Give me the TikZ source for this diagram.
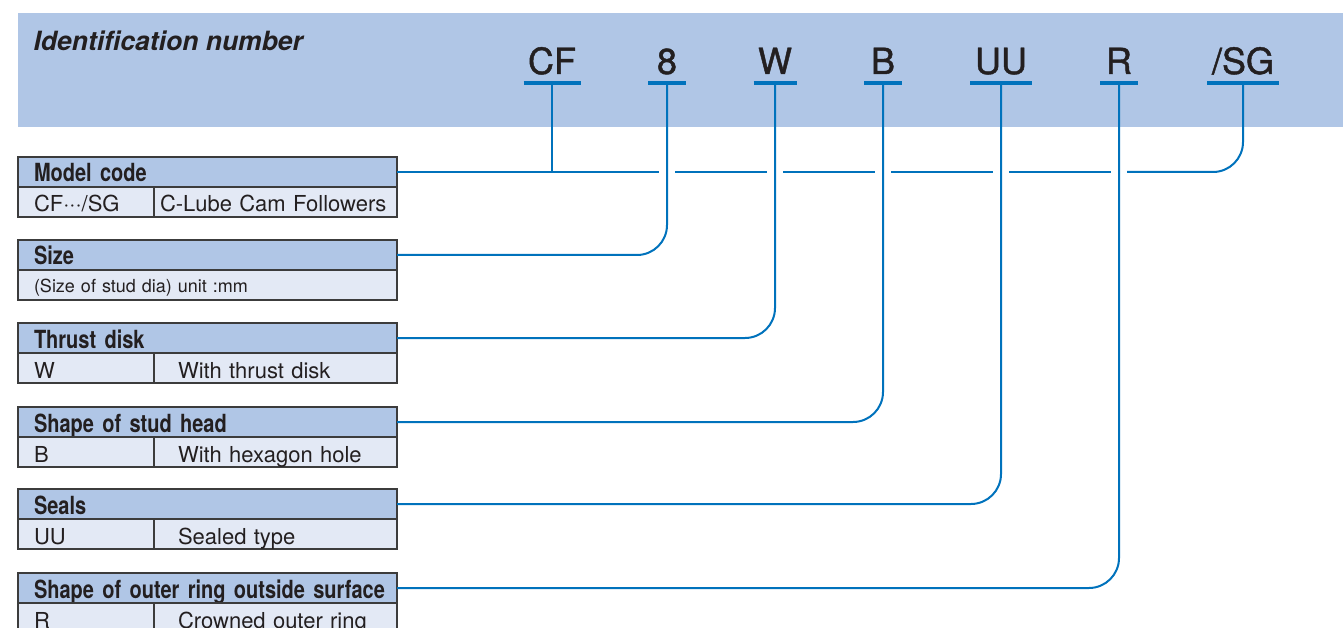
\documentclass[tikz,border=0pt]{standalone}
\usepackage{fontspec}
\setmainfont{TeX Gyre Heros}
\newfontfamily\condfont{TeX Gyre Heros}[FakeStretch=0.8]
\newfontfamily\codefont{TeX Gyre Heros}[FakeBold=1.2]
\usepackage{tikz}
\usetikzlibrary{positioning,calc}

\definecolor{bandblue}{RGB}{176,198,230}
\definecolor{rowblue}{RGB}{227,233,245}
\definecolor{linkblue}{RGB}{0,114,188}
\definecolor{inkgrey}{RGB}{35,31,32}
\definecolor{framegrey}{RGB}{60,60,60}

\tikzset{
  boxtitle/.style={draw=framegrey, line width=1.3pt, fill=bandblue, anchor=north west,
    outer sep=0pt, minimum height=30pt, text width=347pt, inner xsep=16pt, inner ysep=0pt,
    align=left, text height=20pt, text depth=0pt, text=inkgrey,
    font=\condfont\bfseries\fontsize{25}{28}\selectfont},
  keycell/.style={draw=framegrey, line width=1.3pt, fill=rowblue, anchor=north west,
    outer sep=0pt, minimum height=30pt, text width=104pt, inner xsep=16pt, inner ysep=0pt,
    align=left, text height=20pt, text depth=0pt, text=inkgrey,
    font=\fontsize{22}{26}\selectfont},
  desccell/.style={keycell, text width=195pt, inner xsep=24pt},
  widecell/.style={keycell, text width=347pt, text height=14pt,
    font=\fontsize{18}{22}\selectfont},
  code/.style={anchor=base, text=inkgrey, font=\codefont\fontsize{36}{40}\selectfont},
  bar/.style={linkblue, line width=4pt},
  conn/.style={linkblue, line width=2pt},
}

\begin{document}
\begin{tikzpicture}[x=1pt,y=-1pt]
  \useasboundingbox (0,0) rectangle (1343,628);
  % identification band
  \fill[bandblue] (18,13) rectangle (1343,127);
  \node[anchor=base west, text=inkgrey, font=\bfseries\itshape\fontsize{26.5}{30}\selectfont]
    (idnum) at (30,51) {Identification number};
  \foreach \n/\t/\x/\w in {CF/CF/552/57, 8/8/667/38, W/W/775/43, B/B/883/38,
                           UU/UU/1001/62, R/R/1119/38, SG/{/SG}/1243/72} {
    \node[code] (c-\n) at (\x,74) {\t};
    \coordinate (b\n) at (\x,83);
    \draw[bar] (\x-\w/2,83) -- (\x+\w/2,83);
  }

  % boxes
  \node[boxtitle] (model) at (18,157) {Model code};
  \node[keycell] (model-key) at (model.south west) {CF···/SG};
  \node[desccell, text width=231pt, inner xsep=6pt] (model-desc) at (model-key.north east) {C-Lube Cam Followers};

  \node[boxtitle] (size) at (18,240) {Size};
  \node[widecell] (size-key) at (size.south west) {(Size of stud dia) unit :mm};

  \node[boxtitle] (thrust) at (18,323) {Thrust disk};
  \node[keycell] (thrust-key) at (thrust.south west) {W};
  \node[desccell] (thrust-desc) at (thrust-key.north east) {With thrust disk};

  \node[boxtitle] (head) at (18,407) {Shape of stud head};
  \node[keycell] (head-key) at (head.south west) {B};
  \node[desccell] (head-desc) at (head-key.north east) {With hexagon hole};

  \node[boxtitle] (seals) at (18,489) {Seals};
  \node[keycell] (seals-key) at (seals.south west) {UU};
  \node[desccell] (seals-desc) at (seals-key.north east) {Sealed type};

  \node[boxtitle] (ring) at (18,573) {\mbox{Shape of outer ring outside surface}};
  \node[keycell] (ring-key) at (ring.south west) {R};
  \node[desccell] (ring-desc) at (ring-key.north east) {Crowned outer ring};

  % model code line, broken where the other lines cross it
  \draw[conn] (bCF) -- (bCF |- model.east);
  \draw[conn] (model.east) -- ($(b8 |- model.east)+(-8,0)$);
  \foreach \l/\r in {8/W, W/B, B/UU, UU/R}
    \draw[conn] ($(b\l |- model.east)+(8,0)$) -- ($(b\r |- model.east)+(-8,0)$);
  \draw[conn, rounded corners=30pt] ($(bR |- model.east)+(8,0)$) -- (bSG |- model.east) -- (bSG);

  % other lines
  \draw[conn, rounded corners=30pt] (size.east) -- (b8 |- size.east) -- (b8);
  \draw[conn, rounded corners=30pt] (thrust.east) -- (bW |- thrust.east) -- (bW);
  \draw[conn, rounded corners=30pt] (head.east) -- (bB |- head.east) -- (bB);
  \draw[conn, rounded corners=30pt] (seals.east) -- (bUU |- seals.east) -- (bUU);
  \draw[conn, rounded corners=30pt] (ring.east) -- (bR |- ring.east) -- (bR);
\end{tikzpicture}
\end{document}
